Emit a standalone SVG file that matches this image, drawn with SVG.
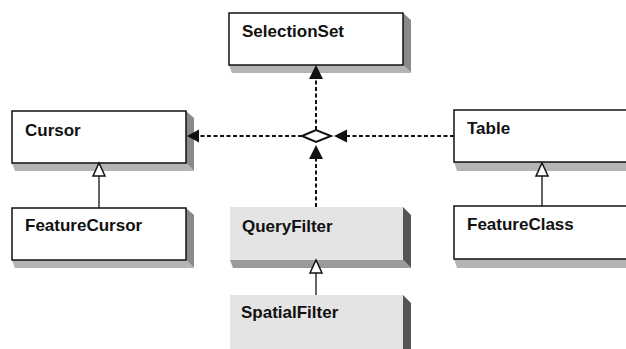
<svg xmlns="http://www.w3.org/2000/svg" width="626" height="349" viewBox="0 0 626 349">
<defs>
<style>
.box{fill:#fff;stroke:#111;stroke-width:1.5}
.gbox{fill:#e4e4e4;stroke:none}
.sr{fill:#8a8a8a}
.sb{fill:#b4b4b4}
.gsr{fill:#555}
.gsb{fill:#9a9a9a}
.lbl{font-family:"Liberation Sans",Arial,sans-serif;font-weight:bold;font-size:17px;fill:#111}
.dash{stroke:#111;stroke-width:2;stroke-dasharray:4,2.5;fill:none}
.solid{stroke:#111;stroke-width:1.3;fill:none}
.head{fill:#111}
.tri{fill:#fff;stroke:#111;stroke-width:1.5}
</style>
</defs>
<g id="SelectionSet">
<polygon class="sr" points="403,13 411,20 411,73 403,65"/>
<polygon class="sb" points="229,65 403,65 411,73 232,73"/>
<rect class="box" x="229" y="13" width="174" height="52"/>
<text class="lbl" x="242" y="37">SelectionSet</text>
</g>
<g id="Cursor">
<polygon class="sr" points="186,111 194,118 194,171 186,163"/>
<polygon class="sb" points="12,163 186,163 194,171 15,171"/>
<rect class="box" x="12" y="111" width="174" height="52"/>
<text class="lbl" x="25" y="136">Cursor</text>
</g>
<g id="FeatureCursor">
<polygon class="sr" points="186,208 194,215 194,268 186,260"/>
<polygon class="sb" points="12,260 186,260 194,268 15,268"/>
<rect class="box" x="12" y="208" width="174" height="52"/>
<text class="lbl" x="25" y="231">FeatureCursor</text>
</g>
<g id="Table">
<polygon class="sb" points="454,162 640,162 640,171 457,171"/>
<rect class="box" x="454" y="110" width="180" height="52"/>
<text class="lbl" x="467" y="134">Table</text>
</g>
<g id="FeatureClass">
<polygon class="sb" points="454,259 640,259 640,268 457,268"/>
<rect class="box" x="454" y="206" width="180" height="53"/>
<text class="lbl" x="467" y="230">FeatureClass</text>
</g>
<g id="QueryFilter">
<polygon class="gsr" points="403,207 411,215 411,268 403,260"/>
<polygon class="gsb" points="230,260 403,260 411,268 233,268"/>
<rect class="gbox" x="230" y="207" width="173" height="53"/>
<text class="lbl" x="242" y="232">QueryFilter</text>
</g>
<g id="SpatialFilter">
<polygon class="gsr" points="403,295 411,303 411,349 403,349"/>
<rect class="gbox" x="230" y="295" width="173" height="54"/>
<text class="lbl" x="241" y="318">SpatialFilter</text>
</g>
<g id="connectors">
<polygon id="diamond" points="302,136 316,130 331,136 316,142" fill="#fff" stroke="#111" stroke-width="2"/>
<line class="dash" x1="316" y1="130" x2="316" y2="78"/>
<polygon class="head" points="316,65 309,79 323,79"/>
<line class="dash" x1="302" y1="136" x2="197" y2="136"/>
<polygon class="head" points="187,136 199,129.5 199,142.5"/>
<line class="dash" x1="454" y1="136" x2="346" y2="136"/>
<polygon class="head" points="334,136 347,129.5 347,142.5"/>
<line class="dash" x1="316" y1="207" x2="316" y2="158"/>
<polygon class="head" points="316,145 309,159 323,159"/>
<line class="solid" x1="99" y1="176" x2="99" y2="208"/>
<polygon class="tri" points="99,163 93,176 105,176"/>
<line class="solid" x1="542" y1="176" x2="542" y2="206"/>
<polygon class="tri" points="542,163 536,176 548,176"/>
<line class="solid" x1="316" y1="273" x2="316" y2="295"/>
<polygon class="tri" points="316,260 310,273 322,273"/>
</g>
</svg>
